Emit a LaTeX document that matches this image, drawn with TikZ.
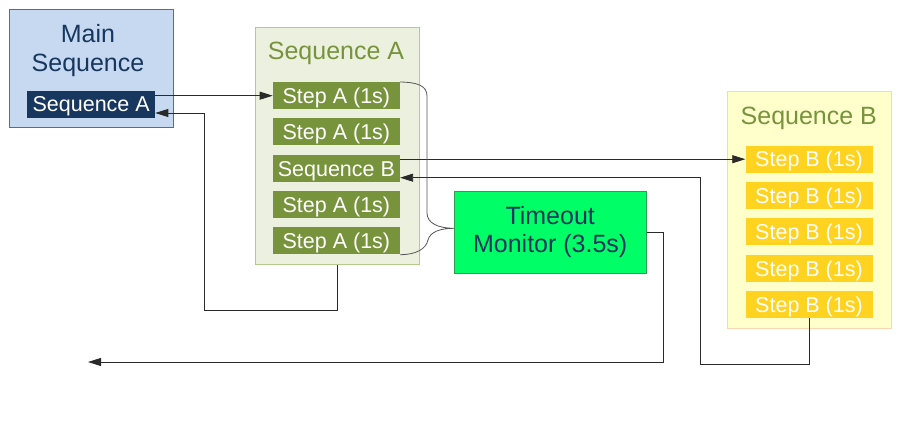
\documentclass[tikz,border=0pt]{standalone}
\usepackage{fontspec}
\setmainfont{Liberation Sans}
\usetikzlibrary{arrows.meta}
\definecolor{mainfill}{HTML}{C6D9F1}
\definecolor{mainborder}{HTML}{4A6FA5}
\definecolor{navy}{HTML}{17375E}
\definecolor{seqAfill}{HTML}{EBF1DE}
\definecolor{seqAborder}{HTML}{B5CB88}
\definecolor{olive}{HTML}{77933C}
\definecolor{tmfill}{HTML}{00FF66}
\definecolor{tmborder}{HTML}{2E9E50}
\definecolor{seqBfill}{HTML}{FFFFCC}
\definecolor{seqBborder}{HTML}{FCD5B5}
\definecolor{gold}{HTML}{FFD320}
\definecolor{wirecol}{HTML}{2A2A2A}
\begin{document}
\begin{tikzpicture}[x=1pt,y=-1pt,
  container/.style={draw, line width=1pt, inner sep=0pt, minimum width=164pt},
  titletext/.style={inner sep=0pt, font=\fontsize{25}{28.5}\selectfont, align=center},
  stepbox/.style={inner sep=0pt, minimum width=127pt, minimum height=27pt,
    text=white, font=\fontsize{21.5}{24}\selectfont, text height=15.5pt, text depth=0pt},
  stepA/.style={stepbox, fill=olive},
  stepB/.style={stepbox, fill=gold},
  wire/.style={draw=wirecol, line width=0.85pt},
  arr/.style={wire, -{Triangle[length=13pt,width=8pt]}}
]
\useasboundingbox[fill=white] (0,0) rectangle (900,427);

% Main sequence
\node[container, fill=mainfill, draw=mainborder, minimum height=118.4pt] (main) at (91.3,68.5) {};
\node[titletext, text=navy, anchor=north] (maintitle) at (88,24.5) {Main\\Sequence};
\node[stepbox, fill=navy, minimum width=127.7pt] (inner) at (91.2,104.2) {Sequence A};

% Sequence A
\node[container, fill=seqAfill, draw=seqAborder, minimum height=237pt] (seqA) at (337,145.8) {};
\node[titletext, text=olive, anchor=base] (seqAtitle) at (336,60) {Sequence A};
\node[stepA] (a1) at (336.4,95.7) {Step A (1s)};
\node[stepA] (a2) at (336.4,132) {Step A (1s)};
\node[stepA] (sb) at (336.4,168.3) {Sequence B};
\node[stepA] (a4) at (336.4,204.7) {Step A (1s)};
\node[stepA] (a5) at (336.4,241) {Step A (1s)};

% Timeout monitor
\node[draw=tmborder, fill=tmfill, line width=1pt, minimum width=191.7pt, minimum height=82.3pt,
  inner sep=0pt, text=navy, font=\fontsize{25}{28.5}\selectfont, align=center] (tm) at (550.2,232.2)
  {Timeout\\Monitor (3.5s)};

% Sequence B
\node[container, fill=seqBfill, draw=seqBborder, minimum height=236.6pt] (seqB) at (809.3,210) {};
\node[titletext, text=olive, anchor=base] (seqBtitle) at (808.8,124.3) {Sequence B};
\node[stepB] (b1) at (809,159.2) {Step B (1s)};
\node[stepB] (b2) at (809,195.7) {Step B (1s)};
\node[stepB] (b3) at (809,232) {Step B (1s)};
\node[stepB] (b4) at (809,268.3) {Step B (1s)};
\node[stepB] (b5) at (809,304.8) {Step B (1s)};

% coordinates
\coordinate (rA1) at (337,310);
\coordinate (rA2) at (204,310);
\coordinate (rA3) at (204,113);
\coordinate (rB1) at (809,364);
\coordinate (rB2) at (700,364);
\coordinate (rB3) at (700,177.7);
\coordinate (t1) at (663,232.2);
\coordinate (t2) at (663,362);
\coordinate (tend) at (88,362);
\coordinate (tip) at (454,228.3);

% connectors
\draw[arr] (inner.east |- a1.west) -- (a1.west);
\draw[arr] (seqA.south) -- (rA1) -- (rA2) -- (rA3) -- (inner.east |- rA3);
\draw[arr] (sb.east |- b1.west) -- (b1.west);
\draw[arr] (b5.south) -- (rB1) -- (rB2) -- (rB3) -- (sb.east |- rB3);
\draw[arr] (tm.east) -- (t1) -- (t2) -- (tend);

% brace
\draw[draw=wirecol!80, line width=0.8pt] (a1.north east)
  .. controls (418,82.3) and (427,86) .. (427,96) -- (427,213)
  .. controls (427,223) and (438,228.3) .. (tip)
  .. controls (440,228.3) and (430,232) .. (428,240)
  .. controls (426,249) and (416,254.7) .. (a5.south east);
\end{tikzpicture}
\end{document}
